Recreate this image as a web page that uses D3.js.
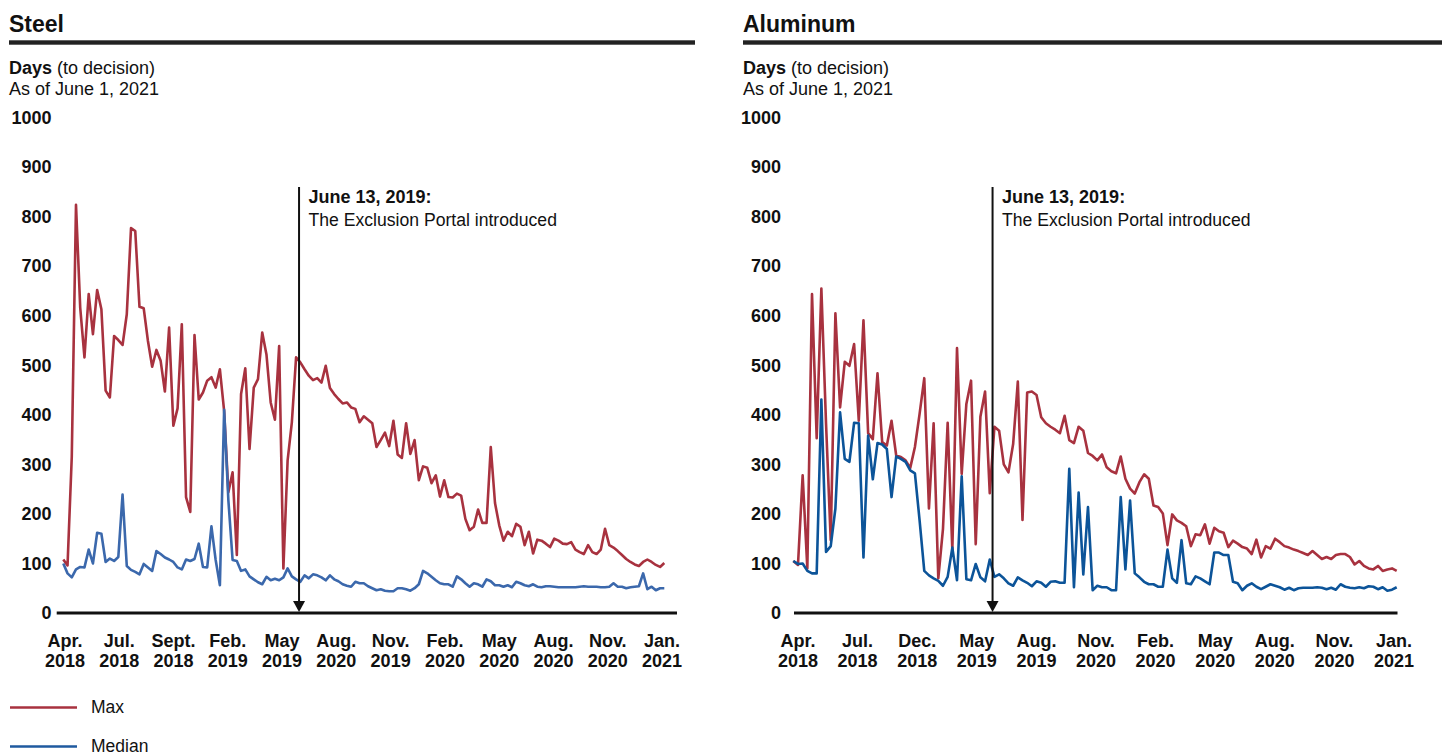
<!DOCTYPE html>
<html>
<head>
<meta charset="utf-8">
<script src="https://cdn.jsdelivr.net/npm/d3@7"></script>
<style>
  html, body { margin: 0; padding: 0; background: #ffffff; }
  svg { display: block; font-family: "Liberation Sans", Arial, sans-serif; }
</style>
</head>
<body>
<svg id="chart" width="1442" height="755"></svg>
<script>
// ---------------- DATA ----------------
const yTicks = [0, 100, 200, 300, 400, 500, 600, 700, 800, 900, 1000];

const steelLabels = [
  ["Apr.", "2018"], ["Jul.", "2018"], ["Sept.", "2018"], ["Feb.", "2019"],
  ["May", "2019"], ["Aug.", "2020"], ["Nov.", "2019"], ["Feb.", "2020"],
  ["May", "2020"], ["Aug.", "2020"], ["Nov.", "2020"], ["Jan.", "2021"]
];
const aluLabels = [
  ["Apr.", "2018"], ["Jul.", "2018"], ["Dec.", "2018"], ["May", "2019"],
  ["Aug.", "2019"], ["Nov.", "2020"], ["Feb.", "2020"], ["May", "2020"],
  ["Aug.", "2020"], ["Nov.", "2020"], ["Jan.", "2021"]
];

// weekly observations (days to decision)
const steelMax = [
  108,96,315,824,616,516,644,563,652,613,
  449,435,559,551,541,603,777,771,618,615,
  549,497,531,509,447,576,378,413,583,234,
  204,561,431,445,469,476,455,492,408,244,
  284,117,442,494,331,455,472,566,522,425,
  390,539,90,308,385,516,506,
  492,479,470,474,465,499,454,442,432,423,
  425,415,412,385,397,390,383,335,349,364,
  337,388,320,313,383,321,349,268,296,293,
  262,278,235,268,234,233,241,237,190,167,
  174,209,182,182,335,222,177,146,164,155,
  180,174,137,164,120,148,146,140,133,150,
  146,140,139,143,128,123,119,137,123,119,
  128,170,137,132,125,117,109,103,98,95,
  103,108,103,97,93,101
];
const steelMedian = [
  100,80,72,88,93,92,128,100,162,160,
  103,110,105,113,239,95,87,83,78,99,
  92,85,125,119,112,108,103,92,88,108,
  105,109,140,93,92,175,107,56,410,228,
  107,105,85,88,74,68,62,58,73,66,
  69,66,72,90,74,68,63,
  76,70,78,76,72,66,76,68,64,58,
  55,53,63,60,60,54,50,46,48,45,
  44,44,50,50,48,45,50,58,85,80,
  73,66,60,58,58,53,74,68,60,53,
  60,58,53,68,64,56,56,53,56,52,
  63,60,56,54,58,53,52,54,54,53,
  52,52,52,52,52,53,54,53,53,53,
  52,52,53,60,53,53,50,52,53,54,
  80,48,53,46,50,50
];
const aluMax = [
  105,97,278,90,644,353,655,382,147,605,
  415,507,499,543,388,591,363,351,484,345,
  338,388,318,315,308,293,335,402,474,211,
  383,70,170,384,127,535,281,422,469,139,
  396,447,242,376,368,
  300,284,341,467,188,445,447,440,395,383,
  376,370,363,398,349,343,376,368,323,317,
  308,320,294,286,282,316,271,251,241,264,
  280,271,217,214,201,137,199,187,182,175,
  135,159,157,179,140,172,165,162,133,146,
  140,133,130,119,148,112,135,130,150,143,
  135,132,128,125,121,117,125,117,109,113,
  109,117,119,119,113,98,105,95,90,88,
  95,85,88,90,85
];
const aluMedian = [
  105,99,100,85,80,80,431,123,135,211,
  405,311,305,384,383,112,358,270,343,340,
  331,234,316,311,305,288,282,187,85,76,
  70,65,55,73,132,66,276,68,66,99,
  72,64,108,73,78,
  70,60,55,72,66,61,54,64,61,53,
  63,64,61,61,291,52,243,78,214,46,
  55,52,52,46,46,234,88,227,80,72,
  63,58,58,53,53,128,70,61,147,60,
  58,74,70,64,58,122,122,117,117,63,
  60,46,55,60,53,48,53,58,55,52,
  47,51,46,50,51,51,51,52,51,48,
  51,47,58,53,51,50,52,50,54,53,
  48,52,45,47,52
];

// week index (fractional) of June 13, 2019 in each series
const steelEventIndex = 55.7;
const aluEventIndex = 42.6;
const eventTitle = "June 13, 2019:";
const eventText = "The Exclusion Portal introduced";

// ---------------- DRAW ----------------
const svg = d3.select("#chart");
const COL_MAX = "#a8323f";

function panel(opts) {
  const g = svg.append("g");
  const y = d3.scaleLinear().domain([0, 1000]).range([613, 117.6]);
  const n = opts.max.length;
  const x = d3.scaleLinear().domain([0, n - 1]).range(opts.dataRange);
  const xl = d3.scalePoint().domain(d3.range(opts.labels.length)).range(opts.labelRange);

  // title + rule
  g.append("text").attr("x", opts.left).attr("y", 31.5)
    .attr("font-size", 23).attr("font-weight", "bold").attr("fill", "#111").text(opts.title);
  g.append("rect").attr("x", opts.left).attr("y", 40.3).attr("width", opts.ruleW).attr("height", 4.4)
    .attr("fill", "#222");

  // subtitle
  const t1 = g.append("text").attr("x", opts.left).attr("y", 73.5).attr("font-size", 18).attr("fill", "#111");
  t1.append("tspan").attr("font-weight", "bold").text("Days");
  t1.append("tspan").text(" (to decision)");
  g.append("text").attr("x", opts.left).attr("y", 95).attr("font-size", 18).attr("fill", "#111")
    .text("As of June 1, 2021");

  // y axis (labels only)
  const yAxis = d3.axisLeft(y).tickValues(yTicks).tickSize(0).tickPadding(0).tickFormat(d3.format("d"));
  const ya = g.append("g").attr("transform", `translate(${opts.yLabelX},0)`).call(yAxis);
  ya.select(".domain").remove();
  ya.selectAll("text").attr("font-size", 18).attr("font-weight", "bold").attr("fill", "#111")
    .attr("font-family", "Liberation Sans, Arial, sans-serif");

  // x axis line
  g.append("line").attr("x1", opts.axisRange[0]).attr("x2", opts.axisRange[1])
    .attr("y1", y(0)).attr("y2", y(0)).attr("stroke", "#111").attr("stroke-width", 3);

  // x labels
  const lab = g.append("g").attr("font-size", 18).attr("font-weight", "bold").attr("fill", "#111")
    .attr("text-anchor", "middle");
  opts.labels.forEach((l, i) => {
    lab.append("text").attr("x", xl(i)).attr("y", 646.5).text(l[0]);
    lab.append("text").attr("x", xl(i)).attr("y", 666.7).text(l[1]);
  });

  // series
  const line = d3.line().x((d, i) => x(i)).y(d => y(d));
  g.append("path").datum(opts.max).attr("d", line).attr("fill", "none")
    .attr("stroke", COL_MAX).attr("stroke-width", 2.6).attr("stroke-linejoin", "round");
  g.append("path").datum(opts.median).attr("d", line).attr("fill", "none")
    .attr("stroke", opts.medColor).attr("stroke-width", 2.6).attr("stroke-linejoin", "round");

  // event marker
  const xe = x(opts.eventIndex);
  g.append("line").attr("x1", xe).attr("x2", xe).attr("y1", 187).attr("y2", 603)
    .attr("stroke", "#111").attr("stroke-width", 2);
  g.append("path").attr("d", `M${xe - 6},601 L${xe + 6},601 L${xe},612 Z`).attr("fill", "#111");
  g.append("text").attr("x", xe + 9.5).attr("y", 203).attr("font-size", 18).attr("font-weight", "bold")
    .attr("fill", "#111").text(eventTitle);
  g.append("text").attr("x", xe + 9.5).attr("y", 225.5).attr("font-size", 17.6).attr("fill", "#111")
    .text(eventText);
}

panel({
  title: "Steel", left: 9, ruleW: 686, yLabelX: 51.5,
  max: steelMax, median: steelMedian, medColor: "#3b68ac",
  dataRange: [63.3, 664.3], axisRange: [56.7, 677], labelRange: [65, 662],
  labels: steelLabels, eventIndex: steelEventIndex
});
panel({
  title: "Aluminum", left: 743, ruleW: 699, yLabelX: 781,
  max: aluMax, median: aluMedian, medColor: "#0c5499",
  dataRange: [793.3, 1396.7], axisRange: [794, 1397.5], labelRange: [798, 1394],
  labels: aluLabels, eventIndex: aluEventIndex
});

// legend
const legendItems = [["Max", COL_MAX], ["Median", "#1f5a9f"]];
const lg = svg.append("g");
legendItems.forEach((d, i) => {
  const yy = 707.5 + i * 39;
  lg.append("line").attr("x1", 10).attr("x2", 77).attr("y1", yy).attr("y2", yy)
    .attr("stroke", d[1]).attr("stroke-width", 2.6);
  lg.append("text").attr("x", 91).attr("y", yy + 5.5).attr("font-size", 17.5).attr("fill", "#111").text(d[0]);
});
</script>
</body>
</html>
